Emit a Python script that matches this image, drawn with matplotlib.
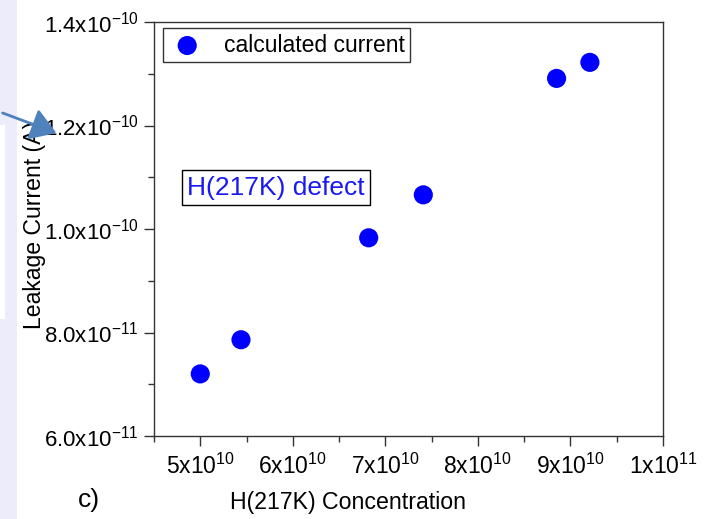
import matplotlib
matplotlib.use("Agg")
import matplotlib.pyplot as plt
from matplotlib.patches import Rectangle, FancyArrowPatch
from matplotlib.ticker import MultipleLocator

plt.rcParams['font.family'] = ['Liberation Sans', 'DejaVu Sans']
plt.rcParams['mathtext.fontset'] = 'custom'
plt.rcParams['mathtext.rm'] = 'Liberation Sans'
plt.rcParams['mathtext.it'] = 'Liberation Sans:italic'
plt.rcParams['mathtext.bf'] = 'Liberation Sans:bold'

# Data
concentration = [5.00e10, 5.44e10, 6.82e10, 7.41e10, 8.85e10, 9.21e10]
leakage_current = [7.20e-11, 7.86e-11, 9.83e-11, 10.66e-11, 12.91e-11, 13.22e-11]
x_ticks = [5e10, 6e10, 7e10, 8e10, 9e10, 1e11]
x_tick_labels = [r'$\mathregular{5x10^{10}}$', r'$\mathregular{6x10^{10}}$',
                 r'$\mathregular{7x10^{10}}$', r'$\mathregular{8x10^{10}}$',
                 r'$\mathregular{9x10^{10}}$', r'$\mathregular{1x10^{11}}$']
y_ticks = [6e-11, 8e-11, 1.0e-10, 1.2e-10, 1.4e-10]
y_tick_labels = [r'$\mathregular{6.0x10^{-11}}$', r'$\mathregular{8.0x10^{-11}}$',
                 r'$\mathregular{1.0x10^{-10}}$', r'$\mathregular{1.2x10^{-10}}$',
                 r'$\mathregular{1.4x10^{-10}}$']

W, H = 718, 519
fig = plt.figure(figsize=(W / 100, H / 100), dpi=100)
fig.patch.set_facecolor('white')

# left lavender strip (slide background)
fig.patches.append(Rectangle((0, 0), 17 / W, 1, transform=fig.transFigure,
                             facecolor='#ECECFA', edgecolor='none', zorder=0))
fig.patches.append(Rectangle((0, 1 - 319 / H), 5 / W, (319 - 125) / H,
                             transform=fig.transFigure, facecolor='white',
                             edgecolor='none', zorder=0))

ax = fig.add_axes([154 / W, (H - 436) / H, 509 / W, 414 / H])
ax.scatter(concentration, leakage_current, s=190, color='#0000FF',
           edgecolors='none', label='calculated current', zorder=3)

ax.set_xlim(4.5e10, 1e11)
ax.set_ylim(6e-11, 1.4e-10)
ax.set_xticks(x_ticks)
ax.set_xticklabels(x_tick_labels, fontsize=16.5)
ax.set_yticks(y_ticks)
ax.set_yticklabels(y_tick_labels, fontsize=16)
ax.xaxis.set_minor_locator(MultipleLocator(0.5e10))
ax.yaxis.set_minor_locator(MultipleLocator(1e-11))
ax.tick_params(which='major', direction='out', length=7, width=1, color='#333333',
               top=False, right=False, pad=4)
ax.tick_params(axis='x', which='major', pad=6)
ax.tick_params(which='minor', direction='out', length=4, width=1, color='#333333',
               top=False, right=False)
for sp in ax.spines.values():
    sp.set_color('#333333')
    sp.set_linewidth(1.0)

# axis titles (positioned as in the original slide)
fig.text(348 / W, 1 - 502 / H, 'H(217K) Concentration', fontsize=16.7,
         ha='center', va='center')
fig.text(35 / W, 1 - 225 / H, 'Leakage Current (A)', fontsize=16.6,
         rotation=90, ha='center', va='center')

leg = ax.legend(loc='upper left', bbox_to_anchor=(0.018, 0.986), borderaxespad=0,
                frameon=True, fancybox=False, edgecolor='black', fontsize=16.5,
                handletextpad=0.8, borderpad=0.25, handlelength=1.6,
                markerscale=1.0)
leg.get_frame().set_linewidth(1.0)

ax.text(0.239, 0.60, 'H(217K) defect', transform=ax.transAxes, fontsize=19,
        color='#1A1AF0', ha='center', va='center',
        bbox=dict(boxstyle='square,pad=0.2', facecolor='white', edgecolor='black',
                  linewidth=1.0))

fig.text(89 / W, 1 - 500 / H, 'c)', fontsize=19, ha='center', va='center')

arrow = FancyArrowPatch((0 / W, 1 - 112 / H), (59 / W, 1 - 134 / H),
                        transform=fig.transFigure, arrowstyle='-|>,head_length=7,head_width=4.5',
                        color='#4F81BD', linewidth=2, mutation_scale=2.2, zorder=5)
fig.patches.append(arrow)

fig.savefig('out.png', dpi=100)
